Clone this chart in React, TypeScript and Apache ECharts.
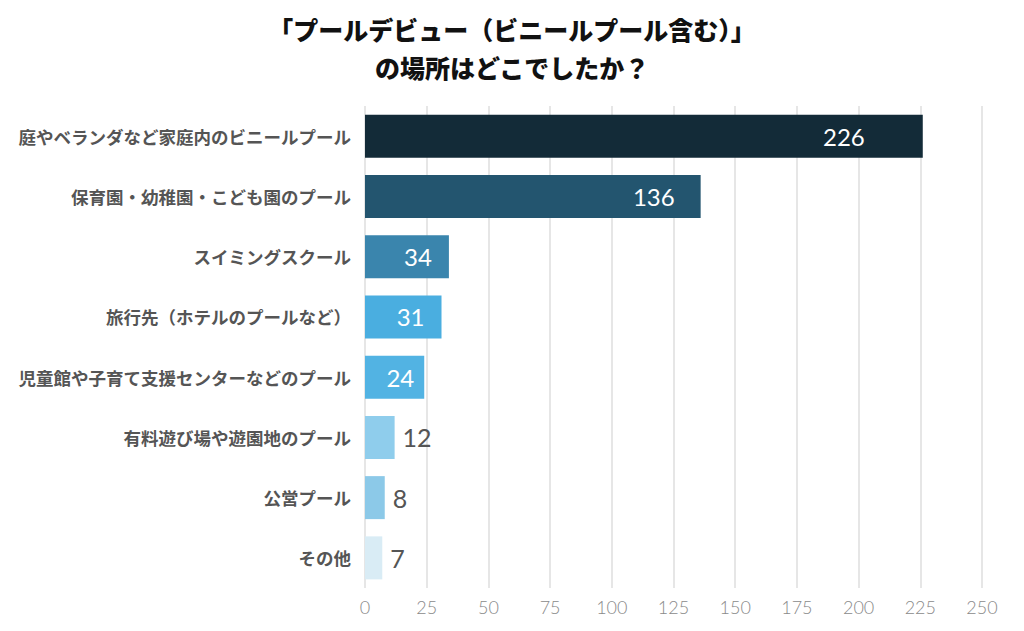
import React, { useEffect, useRef } from "react";
import * as echarts from "echarts";

const titleLines = ["「プールデビュー（ビニールプール含む）」", "の場所はどこでしたか？"];
const categories = [
  "庭やベランダなど家庭内のビニールプール",
  "保育園・幼稚園・こども園のプール",
  "スイミングスクール",
  "旅行先（ホテルのプールなど）",
  "児童館や子育て支援センターなどのプール",
  "有料遊び場や遊園地のプール",
  "公営プール",
  "その他",
];
const values = [226, 136, 34, 31, 24, 12, 8, 7];
const axisMin = 0;
const axisMax = 250;
const axisStep = 25;

const barColors = ["#132b38", "#23556f", "#3a85ad", "#4aaee0", "#52b3e3", "#8fcdec", "#8cc9e8", "#d9ecf5"];
const insideDistance = [58, 26, 17, 17, 10, 0, 0, 0];

export default function App() {
  const ref = useRef<HTMLDivElement>(null);
  useEffect(() => {
    document.body.style.margin = "0";
    if (!ref.current) return;
    const chart = echarts.init(ref.current, undefined, { renderer: "svg" });
    const cats = [...categories].reverse();
    const data = values
      .map((v, i) => {
        const inside = v >= 20;
        return {
          value: v,
          itemStyle: { color: barColors[i] },
          label: inside
            ? {
                show: true,
                position: "insideRight",
                distance: insideDistance[i],
                color: "#ffffff",
                fontSize: 24,
                fontFamily: "Lato",
              }
            : {
                show: true,
                position: "right",
                distance: 8,
                color: "#555555",
                fontSize: 25,
                fontFamily: "Lato",
              },
        };
      })
      .reverse();
    chart.setOption({
      animation: false,
      backgroundColor: "#ffffff",
      title: {
        text: titleLines.join("\n"),
        left: "center",
        top: 5,
        textStyle: {
          fontFamily: "Noto Sans CJK JP",
          fontWeight: 900,
          fontSize: 25,
          lineHeight: 38,
          color: "#111111",
        },
      },
      grid: { left: 365, right: 42, top: 106, bottom: 43, containLabel: false },
      xAxis: {
        type: "value",
        min: axisMin,
        max: axisMax,
        interval: axisStep,
        axisLine: { show: false },
        axisTick: { show: false },
        splitLine: { show: true, lineStyle: { color: "#e6e6e6", width: 2 } },
        axisLabel: {
          color: "#8a8a8a",
          fontSize: 18,
          fontFamily: "Lato",
          fontWeight: 300,
          margin: 10,
        },
      },
      yAxis: {
        type: "category",
        data: cats,
        axisLine: { show: false },
        axisTick: { show: false },
        axisLabel: {
          color: "#555555",
          fontSize: 17.5,
          fontWeight: "bold",
          fontFamily: "Noto Sans CJK JP",
          margin: 14,
        },
      },
      series: [
        {
          type: "bar",
          data,
          barWidth: 43,
        },
      ],
    });
    return () => chart.dispose();
  }, []);
  return <div ref={ref} style={{ width: 1024, height: 631 }} />;
}
